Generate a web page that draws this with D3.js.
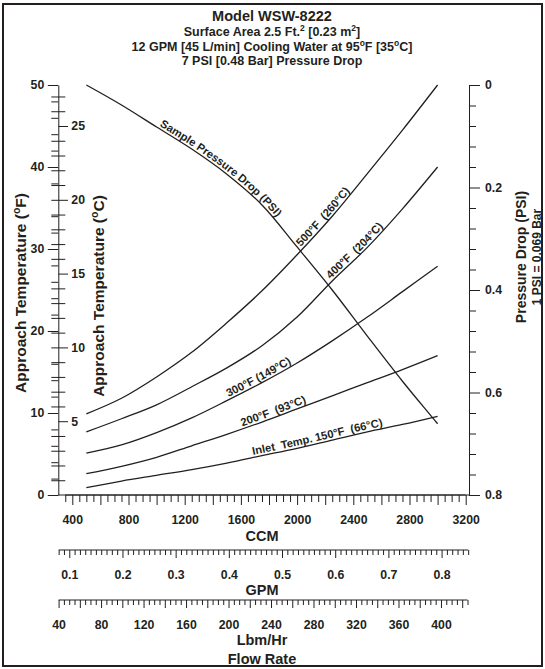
<!DOCTYPE html>
<html>
<head>
<meta charset="utf-8">
<script src="https://cdn.jsdelivr.net/npm/d3@7"></script>
<style>
  body { margin: 0; background: #fff; }
  svg { display: block; font-family: "Liberation Sans", Arial, sans-serif; font-weight: bold; }
  .axis text { font-family: "Liberation Sans", Arial, sans-serif; font-size: 12.3px; font-weight: bold; fill: #231f20; }
  .axis { color: #231f20; }
  .curve { fill: none; stroke: #231f20; stroke-width: 1.3; }
  .clabel { font-size: 11.2px; fill: #231f20; white-space: pre; }
  .title { fill: #231f20; text-anchor: middle; }
</style>
</head>
<body>
<div id="chart"></div>
<script>
/* Approach temperature vs flow rate for the WSW-8222 water cooler,
   plus the sample pressure drop curve on the right-hand axis. */

const FLOW_CCM      = [500, 750, 1000, 1250, 1500, 1750, 2000, 2250, 2500, 2750, 3000];
// approach temperature (°F) per inlet temperature
const APPROACH_500F = [9.9, 11.8, 14.4, 17.4, 21.0, 24.9, 29.3, 34.0, 39.2, 44.5, 50.0];
const APPROACH_400F = [7.7,  9.3, 11.0, 13.2, 15.5, 18.2, 21.7, 26.1, 30.2, 34.9, 40.0];
const APPROACH_300F = [5.1,  6.1,  7.6,  9.4, 11.5, 13.7, 16.1, 18.8, 21.7, 24.8, 27.9];
const APPROACH_200F = [2.6,  3.5,  4.6,  6.0,  7.4,  8.9, 10.5, 12.1, 13.7, 15.3, 17.0];
const APPROACH_150F = [0.9,  1.7,  2.4,  3.1,  3.9,  4.8,  5.7,  6.7,  7.7,  8.6,  9.6];
// sample pressure drop (PSI)
const PRESSURE_PSI  = [0.0, 0.039, 0.082, 0.125, 0.174, 0.234, 0.316, 0.400, 0.490, 0.578, 0.661];

const CURVE_NAMES = ["500°F  (260°C)", "400°F  (204°C)", "300°F (149°C)", "200°F  (93°C)", "Inlet  Temp. 150°F  (66°C)"];

// tick labels
const TEMP_F_LABELS = [0, 10, 20, 30, 40, 50];
const TEMP_C_LABELS = [5, 10, 15, 20, 25];
const PSI_LABELS    = [0, 0.2, 0.4, 0.6, 0.8];
const CCM_LABELS    = [400, 800, 1200, 1600, 2000, 2400, 2800, 3200];
const GPM_LABELS    = [0.1, 0.2, 0.3, 0.4, 0.5, 0.6, 0.7, 0.8];
const LBM_LABELS    = [40, 80, 120, 160, 200, 240, 280, 320, 360, 400];

const CCM_PER_GPM = 3785.41, CCM_PER_LBMHR = 7.56;

const W = 545, H = 669;
const INK = "#231f20";
const svg = d3.select("#chart").append("svg").attr("width", W).attr("height", H);

svg.append("rect").attr("x", 3).attr("y", 4).attr("width", 539).attr("height", 662)
   .attr("fill", "none").attr("stroke", INK).attr("stroke-width", 2);

// scales - all bottom scales are the CCM scale in other units
const x  = d3.scaleLinear().domain([400, 3200]).range([72.3, 465.7]);
const yF = d3.scaleLinear().domain([0, 50]).range([495, 85]);
const yC = d3.scaleLinear().domain([0, 50 / 1.8]).range([495, 85]);
const yP = d3.scaleLinear().domain([0, 0.8]).range([85, 495]);
const xG = d3.scaleLinear().domain([0, 1]).range([x(0), x(CCM_PER_GPM)]);
const xL = d3.scaleLinear().domain([0, 100]).range([x(0), x(100 * CCM_PER_LBMHR)]);

// text with raised "o" / "2" parts
function richText(t, parts, size){
  let afterSup = false;
  parts.forEach(p => {
    if (p.s){
      t.append("tspan").attr("font-size", size * 0.68).attr("dy", -size * 0.38).text(p.s);
      afterSup = true;
    } else {
      t.append("tspan").attr("font-size", size).attr("dy", afterSup ? size * 0.38 : 0).text(p.t);
      afterSup = false;
    }
  });
}

// ---- title
const titleLines = [
  [{t: "Model WSW-8222"}],
  [{t: "Surface Area 2.5 Ft."}, {s: "2"}, {t: " [0.23 m"}, {s: "2"}, {t: "]"}],
  [{t: "12 GPM [45 L/min] Cooling Water at 95"}, {s: "o"}, {t: "F [35"}, {s: "o"}, {t: "C]"}],
  [{t: "7 PSI [0.48 Bar] Pressure Drop"}]
];
titleLines.forEach((parts, i) => {
  const t = svg.append("text").attr("class", "title").attr("x", 272).attr("y", [21, 36, 51, 65][i]);
  richText(t, parts, i === 0 ? 14.5 : 12.5);
});

// ---- left axis, °F on the left side
const gF = svg.append("g").attr("class", "axis").attr("transform", "translate(58.3,0)")
  .call(d3.axisLeft(yF).tickValues(d3.range(0, 51, 2)).tickSize(7).tickSizeOuter(0)
          .tickFormat(d => TEMP_F_LABELS.includes(d) ? d : ""));
gF.selectAll(".tick line").attr("x2", d => TEMP_F_LABELS.includes(d) ? -10.5 : -7);
gF.selectAll(".tick text").attr("x", -14);

// °C ticks on the same line
const gC = svg.append("g").attr("class", "axis").attr("transform", "translate(58.3,0)")
  .call(d3.axisRight(yC).tickValues(d3.range(1, 28)).tickSize(7)
          .tickFormat(d => TEMP_C_LABELS.includes(d) ? d : ""));
gC.select(".domain").remove();
gC.selectAll(".tick line")
  .attr("x1", d => TEMP_C_LABELS.includes(d) ? 0 : -7)
  .attr("x2", d => TEMP_C_LABELS.includes(d) ? 9.7 : 7);
gC.selectAll(".tick text").attr("x", 13).attr("text-anchor", "start");

// ---- right axis, pressure drop
const isPsiMajor = d => PSI_LABELS.some(v => Math.abs(v - d) < 1e-6);
const gP = svg.append("g").attr("class", "axis").attr("transform", "translate(469,0)")
  .call(d3.axisRight(yP).tickValues(d3.range(0, 21).map(i => i * 0.04)).tickSize(7).tickSizeOuter(0)
          .tickFormat(d => isPsiMajor(d) ? (d < 1e-6 ? "0" : d3.format(".1f")(d)) : ""));
gP.selectAll(".tick line").attr("x2", d => isPsiMajor(d) ? 11 : 7);
gP.selectAll(".tick text").attr("x", 16);

// ---- bottom axes
function bottomAxis(scale, y0, ticks, isMajor, labels, minorLen, majorLen, fmt){
  const g = svg.append("g").attr("class", "axis").attr("transform", `translate(0,${y0})`)
    .call(d3.axisBottom(scale).tickValues(ticks).tickSize(minorLen)
            .tickFormat(d => labels.some(v => Math.abs(v - d) < 1e-6) ? fmt(d) : ""));
  g.select(".domain").remove();
  g.selectAll(".tick line").attr("y2", d => isMajor(d) ? majorLen : minorLen);
  g.selectAll(".tick text").attr("y", 20);
  g.append("line").attr("x1", scale(ticks[0])).attr("x2", scale(ticks[ticks.length - 1]))
   .attr("stroke", "currentColor");
  return g;
}
// CCM
bottomAxis(x, 495, d3.range(350, 3201, 50), d => d % 200 === 0, CCM_LABELS, 7, 10, d => d);
svg.append("line").attr("x1", 58.3).attr("x2", 469).attr("y1", 495).attr("y2", 495).attr("stroke", INK);
// GPM
bottomAxis(xG, 550, d3.range(8, 86).map(i => i / 100),
           d => Math.round(d * 100) % 10 === 0, GPM_LABELS, 5, 8, d => d3.format(".1f")(d));
// Lbm/Hr
bottomAxis(xL, 600, d3.range(40, 426, 5), d => d % 20 === 0, LBM_LABELS, 5, 8, d => d);

const axisTitle = (txt, px, py, size) =>
  svg.append("text").attr("class", "title").attr("x", px).attr("y", py).attr("font-size", size).text(txt);
axisTitle("CCM", 262, 541, 14.5);
axisTitle("GPM", 262, 595, 14.5);
axisTitle("Lbm/Hr", 262, 645, 14.5);
axisTitle("Flow Rate", 262, 664, 14.5);

// rotated side titles
function sideTitle(parts, px, py, size){
  const t = svg.append("text").attr("class", "title")
    .attr("transform", `translate(${px},${py}) rotate(-90)`);
  richText(t, parts, size);
}
sideTitle([{t: "Approach Temperature ("}, {s: "o"}, {t: "F)"}], 26, 293, 15.5);
sideTitle([{t: "Approach Temperature ("}, {s: "o"}, {t: "C)"}], 104, 296, 15.5);
sideTitle([{t: "Pressure Drop (PSI)"}], 526, 257, 14);
sideTitle([{t: "1 PSI = 0.069 Bar"}], 540.5, 257, 12);

// ---- curves
const tempLine = d3.line().x((d, i) => x(FLOW_CCM[i])).y(d => yF(d)).curve(d3.curveCatmullRom.alpha(0.5));
const psiLine  = d3.line().x((d, i) => x(FLOW_CCM[i])).y(d => yP(d)).curve(d3.curveCatmullRom.alpha(0.5));

const series = [APPROACH_500F, APPROACH_400F, APPROACH_300F, APPROACH_200F, APPROACH_150F];
series.forEach((s, i) => {
  svg.append("path").attr("id", `c${i}`).attr("class", "curve").attr("d", tempLine(s));
});
svg.append("path").attr("id", "cp").attr("class", "curve").attr("d", psiLine(PRESSURE_PSI));

// path length at which the curve reaches a given pixel x
function offsetAtX(node, px){
  let lo = 0, hi = node.getTotalLength();
  for (let k = 0; k < 40; k++){
    const mid = (lo + hi) / 2;
    if (node.getPointAtLength(mid).x < px) lo = mid; else hi = mid;
  }
  return lo;
}
function curveLabel(id, txt, startCcm){
  const node = document.getElementById(id);
  svg.append("text").attr("class", "clabel").attr("dy", -2.5)
    .append("textPath").attr("href", `#${id}`)
    .attr("startOffset", offsetAtX(node, x(startCcm)))
    .text(txt);
}
const LABEL_START_CCM = [2040, 2250, 1520, 1615, 1690];
CURVE_NAMES.forEach((n, i) => curveLabel(`c${i}`, n, LABEL_START_CCM[i]));
curveLabel("cp", "Sample Pressure Drop (PSI)", 1010);
</script>
</body>
</html>
